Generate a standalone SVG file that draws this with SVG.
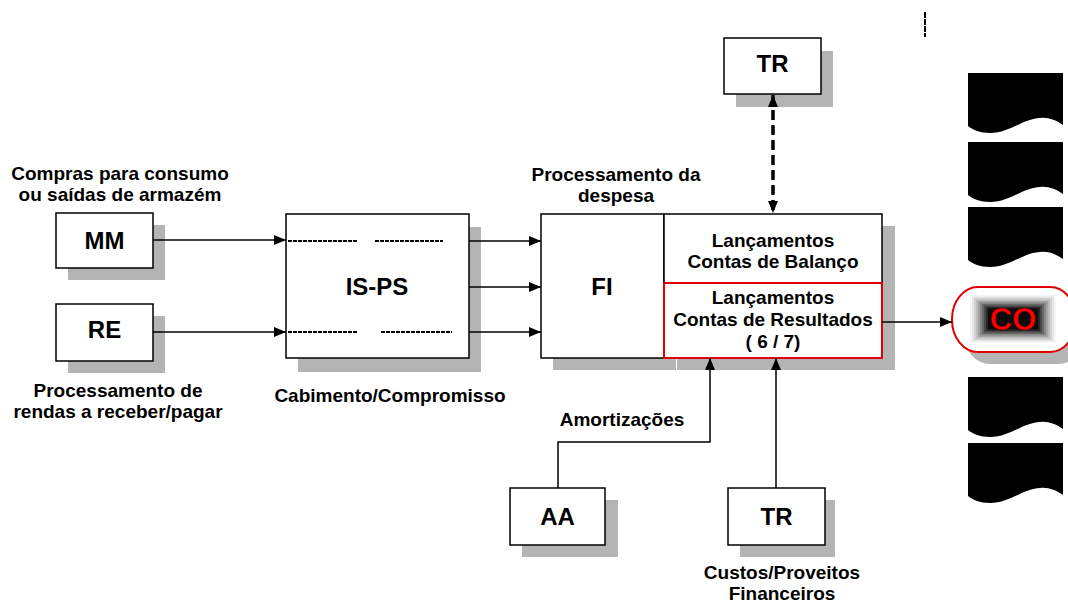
<svg xmlns="http://www.w3.org/2000/svg" width="1068" height="602" viewBox="0 0 1068 602">
<style>
.box{fill:#fff;stroke:#000;stroke-width:1.5}
.red{fill:#fff;stroke:#e00000;stroke-width:2}
.sh{fill:#b4b4b4}
.t{font-family:"Liberation Sans",Arial,sans-serif;font-weight:bold;font-size:19px;fill:#000;text-anchor:middle}
.big{font-size:24px}
.ln{fill:none;stroke:#000;stroke-width:1.5}
.dl{fill:none;stroke:#000;stroke-width:2;stroke-dasharray:4 1}
.doc{fill:#000}
</style>
<defs>
<marker id="ah" viewBox="0 0 12 10" refX="12" refY="5" markerWidth="12" markerHeight="10" markerUnits="userSpaceOnUse" orient="auto">
<path d="M0,0 L12,5 L0,10 Z" fill="#000"/>
</marker>
<marker id="ahs" viewBox="0 0 12 10" refX="0" refY="5" markerWidth="12" markerHeight="10" markerUnits="userSpaceOnUse" orient="auto">
<path d="M12,0 L0,5 L12,10 Z" fill="#000"/>
</marker>
</defs>

<g id="labels">
<text class="t" x="120" y="180">Compras para consumo</text>
<text class="t" x="120" y="201">ou saídas de armazém</text>
<text class="t" x="118" y="397">Processamento de</text>
<text class="t" x="118" y="418">rendas a receber/pagar</text>
<text class="t" x="390" y="402">Cabimento/Compromisso</text>
<text class="t" x="616" y="181">Processamento da</text>
<text class="t" x="616" y="202">despesa</text>
<text class="t" x="622" y="426">Amortizações</text>
<text class="t" x="782" y="579">Custos/Proveitos</text>
<text class="t" x="782" y="600">Financeiros</text>
</g>

<g id="node-MM">
<rect class="sh" x="68" y="225" width="97" height="55"/>
<rect class="box" x="56" y="213" width="97" height="55"/>
<text class="t big" x="104.5" y="249">MM</text>
</g>
<g id="node-RE">
<rect class="sh" x="68" y="316" width="97" height="57"/>
<rect class="box" x="56" y="304" width="97" height="57"/>
<text class="t big" x="104.5" y="338">RE</text>
</g>
<g id="node-ISPS">
<rect class="sh" x="298" y="227" width="183" height="145"/>
<rect class="box" x="286" y="214" width="183" height="144"/>
<text class="t big" x="377" y="295">IS-PS</text>
<line class="dl" x1="288" y1="241" x2="357" y2="241"/>
<line class="dl" x1="375" y1="241" x2="443" y2="241"/>
<line class="dl" x1="288" y1="332" x2="357" y2="332"/>
<line class="dl" x1="381" y1="332" x2="452" y2="332"/>
</g>
<g id="node-FI">
<rect class="sh" x="553" y="226" width="123" height="144"/>
<rect class="sh" x="677" y="226" width="218" height="144"/>
<rect class="box" x="541" y="214" width="123" height="144"/>
<text class="t big" x="602" y="295">FI</text>
</g>
<g id="node-balanco">
<rect class="box" x="664" y="214" width="218" height="69"/>
<text class="t" x="773" y="247">Lançamentos</text>
<text class="t" x="773" y="268">Contas de Balanço</text>
</g>
<g id="node-resultados">
<rect class="red" x="664" y="283" width="218" height="75"/>
<text class="t" x="773" y="304">Lançamentos</text>
<text class="t" x="773" y="326">Contas de Resultados</text>
<text class="t" x="773" y="348">( 6 / 7)</text>
</g>
<g id="node-TR-top">
<rect class="sh" x="736" y="51" width="97" height="56"/>
<rect class="box" x="724" y="38" width="97" height="56"/>
<text class="t big" x="772.5" y="72">TR</text>
</g>
<g id="node-AA">
<rect class="sh" x="522" y="500" width="96" height="57"/>
<rect class="box" x="510" y="488" width="95" height="57"/>
<text class="t big" x="557.5" y="525">AA</text>
</g>
<g id="node-TR-bottom">
<rect class="sh" x="740" y="500" width="95" height="57"/>
<rect class="box" x="728" y="488" width="97" height="57"/>
<text class="t big" x="776.5" y="525">TR</text>
</g>
<g id="node-CO">
<rect class="sh" x="964" y="299" width="120" height="65" rx="26" ry="30"/>
<rect fill="#fff" stroke="#e00000" stroke-width="2" x="952" y="287" width="124" height="65" rx="26" ry="32"/>
<rect x="970" y="295" width="86" height="48" fill="#f6f6f6"/>
<rect x="972" y="296.5" width="82" height="45" fill="#e6e6e6"/>
<rect x="974" y="298" width="78" height="42" fill="#d2d2d2"/>
<rect x="976" y="299.5" width="74" height="39" fill="#bcbcbc"/>
<rect x="978" y="301" width="70" height="36" fill="#a2a2a2"/>
<rect x="980" y="302.5" width="66" height="33" fill="#868686"/>
<rect x="982" y="304" width="62" height="30" fill="#686868"/>
<rect x="984" y="305.5" width="58" height="27" fill="#484848"/>
<rect x="986" y="307" width="54" height="24" fill="#282828"/>
<rect x="988" y="308.5" width="50" height="21" fill="#0c0c0c"/>
<text x="1013" y="330" font-family="'Liberation Sans',Arial,sans-serif" font-weight="bold" font-size="31" fill="#ff0000" stroke="#400000" stroke-width="0.6" text-anchor="middle">CO</text>
</g>
<g id="docs">
<path class="doc" d="M968,73 H1063 V125 C1056,120 1048,117 1040,118 C1022,119 1010,133 990,133 C980,133 973,130 968,126 Z"/>
<path class="doc" d="M968,142 H1063 V194 C1056,189 1048,186 1040,187 C1022,188 1010,202 990,202 C980,202 973,199 968,195 Z"/>
<path class="doc" d="M968,207 H1063 V259 C1056,254 1048,251 1040,252 C1022,253 1010,267 990,267 C980,267 973,264 968,260 Z"/>
<path class="doc" d="M968,377 H1063 V429 C1056,424 1048,421 1040,422 C1022,423 1010,437 990,437 C980,437 973,434 968,430 Z"/>
<path class="doc" d="M968,443 H1063 V495 C1056,490 1048,487 1040,488 C1022,489 1010,503 990,503 C980,503 973,500 968,496 Z"/>
<line x1="925" y1="12" x2="925" y2="37" stroke="#000" stroke-width="2" stroke-dasharray="6 1"/>
</g>
<g id="connectors">
<line class="ln" x1="153" y1="240" x2="286" y2="240" marker-end="url(#ah)"/>
<line class="ln" x1="153" y1="332" x2="286" y2="332" marker-end="url(#ah)"/>
<line class="ln" x1="469" y1="241" x2="541" y2="241" marker-end="url(#ah)"/>
<line class="ln" x1="469" y1="287" x2="541" y2="287" marker-end="url(#ah)"/>
<line class="ln" x1="469" y1="332" x2="541" y2="332" marker-end="url(#ah)"/>
<line class="ln" x1="882" y1="322" x2="952" y2="322" marker-end="url(#ah)"/>
<polyline class="ln" points="558,488 558,442 710,442 710,358" marker-end="url(#ah)"/>
<line class="ln" x1="776" y1="488" x2="776" y2="358" marker-end="url(#ah)"/>
<line x1="773" y1="95" x2="773" y2="213" stroke="#000" stroke-width="3.5" stroke-dasharray="10 5" marker-start="url(#ahs)" marker-end="url(#ah)"/>
</g>
</svg>
